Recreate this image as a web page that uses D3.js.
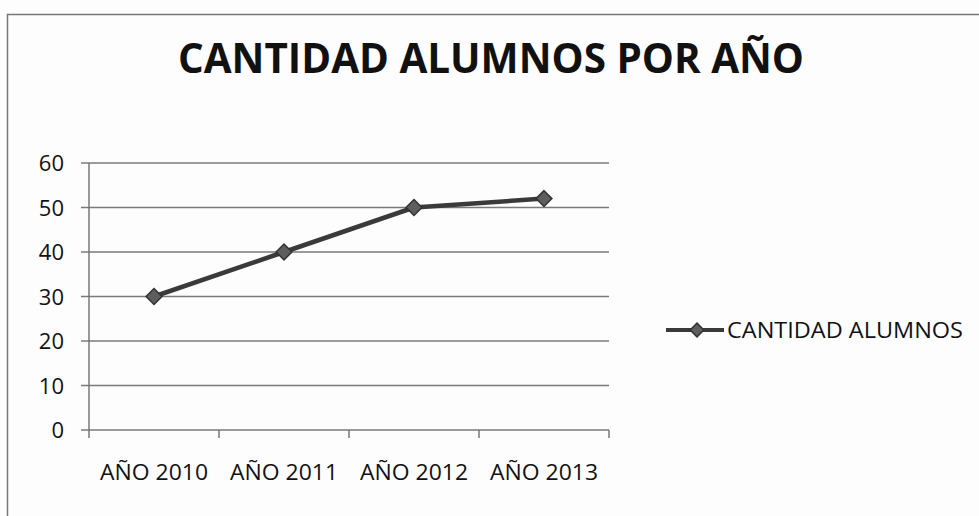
<!DOCTYPE html>
<html><head><meta charset="utf-8">
<script src="https://cdn.jsdelivr.net/npm/d3@7"></script>
<style>body{margin:0;background:#fff;}svg{display:block;}</style>
</head><body>
<script>
const categories = ["AÑO 2010", "AÑO 2011", "AÑO 2012", "AÑO 2013"];
const values = [30, 40, 50, 52];
const yTicks = [0, 10, 20, 30, 40, 50, 60];
const seriesName = "CANTIDAD ALUMNOS";
const title = "CANTIDAD ALUMNOS POR AÑO";

const W = 979, H = 516;
const svg = d3.select("body").append("svg").attr("width", W).attr("height", H);
svg.append("rect").attr("width", W).attr("height", H).attr("fill", "#fdfdfd");
// outer border
svg.append("path").attr("d", `M7.5,${H} V14.5 H${W}`).attr("fill","none").attr("stroke","#777").attr("stroke-width",1.5);

const font = "'Open Sans', sans-serif";
svg.append("text").attr("x", 491).attr("y", 73).attr("text-anchor","middle")
  .attr("font-family", font).attr("font-weight", 700).attr("font-size", 42)
  .attr("textLength", 626).attr("lengthAdjust","spacingAndGlyphs")
  .attr("fill","#111").text(title);

const x = d3.scaleBand().domain(categories).range([89, 609]);
const y = d3.scaleLinear().domain([0, 60]).range([430, 163]);

// gridlines
svg.append("g").selectAll("line").data(yTicks).join("line")
  .attr("x1", 81).attr("x2", 609).attr("y1", d => y(d)).attr("y2", d => y(d))
  .attr("stroke", "#7a7a7a").attr("stroke-width", 1.5);

// y axis line
svg.append("line").attr("x1",89).attr("x2",89).attr("y1",y(60)).attr("y2",y(0)+0.5)
  .attr("stroke","#777").attr("stroke-width",1.5);

// y labels
svg.append("g").selectAll("text").data(yTicks).join("text")
  .attr("x", 64).attr("y", d => y(d) + 8).attr("text-anchor","end")
  .attr("font-family", font).attr("font-size", 22).attr("fill","#111").text(d => d);

// x ticks
const tickPos = categories.map(c => x(c)).concat([x.range()[1]]);
svg.append("g").selectAll("line").data(tickPos).join("line")
  .attr("x1", d => d).attr("x2", d => d).attr("y1", y(0)).attr("y2", y(0)+8)
  .attr("stroke","#777").attr("stroke-width",1.5);

// x labels
svg.append("g").selectAll("text").data(categories).join("text")
  .attr("x", d => x(d) + x.bandwidth()/2).attr("y", 480).attr("text-anchor","middle")
  .attr("font-family", font).attr("font-size", 22).attr("fill","#111")
  .attr("textLength", 108).attr("lengthAdjust","spacingAndGlyphs").text(d => d);

// line
const pts = categories.map((c,i) => [x(c) + x.bandwidth()/2, y(values[i])]);
svg.append("path").attr("d", d3.line()(pts)).attr("fill","none")
  .attr("stroke","#3a3a3a").attr("stroke-width",4.5).attr("stroke-linejoin","round");

const diamond = d3.symbol().type(d3.symbolDiamond2).size(160);
svg.append("g").selectAll("path").data(pts).join("path")
  .attr("transform", d => `translate(${d[0]},${d[1]})`).attr("d", diamond())
  .attr("fill","#5e5e5e").attr("stroke","#333").attr("stroke-width",1.5);

// legend
svg.append("line").attr("x1",666).attr("x2",724).attr("y1",330).attr("y2",330)
  .attr("stroke","#3a3a3a").attr("stroke-width",4);
svg.append("path").attr("transform","translate(697,330)").attr("d", d3.symbol().type(d3.symbolDiamond2).size(120)())
  .attr("fill","#5e5e5e").attr("stroke","#333").attr("stroke-width",1.5);
svg.append("text").attr("x",727).attr("y",338)
  .attr("font-family", font).attr("font-size", 22).attr("fill","#111")
  .attr("textLength", 236).attr("lengthAdjust","spacingAndGlyphs").text(seriesName);
</script>
</body></html>
